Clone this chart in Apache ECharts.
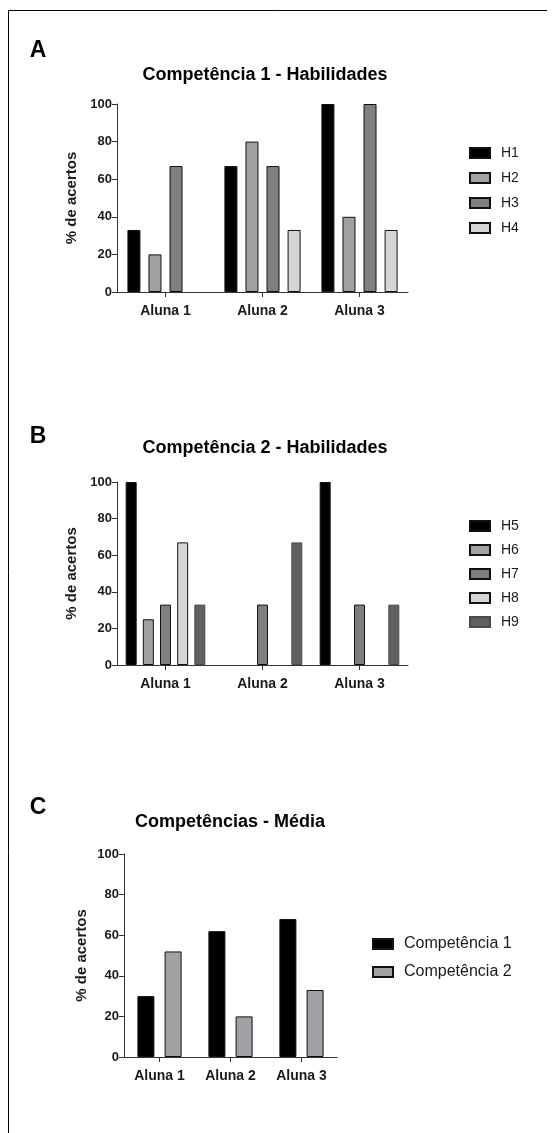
<!DOCTYPE html>
<html>
<head>
<meta charset="utf-8">
<script src="https://cdn.jsdelivr.net/npm/echarts@6/dist/echarts.min.js"></script>
<style>
  html, body { margin: 0; padding: 0; background: #fff; }
  #chart { width: 556px; height: 1133px; }
</style>
</head>
<body>
<div id="chart"></div>
<script>
// Students (categories shared by all three panels)
const categories = ['Aluna 1', 'Aluna 2', 'Aluna 3'];
const yTicks = { min: 0, max: 100, interval: 20 };

// Panel A: Competência 1 skills (% correct)
const h1 = [33, 67, 100];
const h2 = [20, 80, 40];
const h3 = [67, 67, 100];
const h4 = [0, 33, 33];

// Panel B: Competência 2 skills (% correct)
const h5 = [100, 0, 100];
const h6 = [25, 0, 0];
const h7 = [33, 33, 33];
const h8 = [67, 0, 0];
const h9 = [33, 67, 33];

// Panel C: average per competence
const comp1 = [30, 62, 68];
const comp2 = [52, 20, 33];

const FONT = '"Liberation Sans", Arial, Helvetica, sans-serif';
const INK = '#1a1a1a';
const AXIS = '#333333';

const fills = {
  black: '#000000', light: '#a0a0a5', mid: '#7f7f7f', pale: '#d5d5d5', dark: '#606060'
};

function yAxisFor(gridIndex) {
  return {
    type: 'value', gridIndex: gridIndex,
    min: yTicks.min, max: yTicks.max, interval: yTicks.interval,
    name: '% de acertos', nameLocation: 'middle', nameGap: 35, nameRotate: 90,
    nameTextStyle: { fontFamily: FONT, fontWeight: 'bold', fontSize: 15, color: INK },
    axisLine: { show: true, lineStyle: { color: AXIS, width: 1 } },
    axisTick: { show: true, length: 5, lineStyle: { color: AXIS, width: 1 } },
    axisLabel: { fontFamily: FONT, fontWeight: 'bold', fontSize: 13, color: INK, margin: 5 },
    splitLine: { show: false }
  };
}
function xAxisFor(gridIndex) {
  return {
    type: 'category', gridIndex: gridIndex, data: categories,
    axisLine: { show: true, lineStyle: { color: AXIS, width: 1 } },
    axisTick: { show: true, alignWithLabel: true, length: 5, lineStyle: { color: AXIS, width: 1 } },
    axisLabel: { fontFamily: FONT, fontWeight: 'bold', fontSize: 14, color: INK, margin: 12 }
  };
}
// a bar with no height is left without an outline so nothing shows on the axis
function points(values) {
  return values.map(function (v) {
    return v === 0 ? { value: v, itemStyle: { borderWidth: 0 } } : v;
  });
}
function bar(name, data, color, idx, width, gap, border) {
  return {
    type: 'bar', name: name, data: points(data),
    xAxisIndex: idx, yAxisIndex: idx,
    barWidth: width, barGap: gap,
    itemStyle: { color: color, borderColor: border || '#111', borderWidth: 1 },
    emphasis: { disabled: true },
    animation: false
  };
}
function legendFor(names, left, top, gap, size) {
  return {
    data: names, orient: 'vertical', left: left, top: top,
    itemWidth: 20, itemHeight: 10, itemGap: gap, icon: 'rect',
    selectedMode: false,
    textStyle: { fontFamily: FONT, fontSize: size, color: INK, padding: [0, 0, 0, 6] }
  };
}
function label(text, x, y, size) {
  return {
    type: 'text', x: x, y: y,
    style: { text: text, font: 'bold ' + size + 'px ' + FONT, fill: '#000',
             align: 'center', verticalAlign: 'middle' }
  };
}

const chart = echarts.init(document.getElementById('chart'), null, { renderer: 'canvas' });
chart.setOption({
  backgroundColor: '#ffffff',
  animation: false,
  grid: [
    { left: 117, top: 104, width: 291, height: 188 },
    { left: 117, top: 482, width: 291, height: 183 },
    { left: 124, top: 854, width: 213, height: 203 }
  ],
  xAxis: [xAxisFor(0), xAxisFor(1), xAxisFor(2)],
  yAxis: [yAxisFor(0), yAxisFor(1), yAxisFor(2)],
  legend: [
    legendFor(['H1', 'H2', 'H3', 'H4'], 464, 141, 11, 14),
    legendFor(['H5', 'H6', 'H7', 'H8', 'H9'], 464, 514, 10, 14),
    legendFor(['Competência 1', 'Competência 2'], 367, 931, 12, 16)
  ],
  series: [
    bar('H1', h1, fills.black, 0, 13, '62%'),
    bar('H2', h2, fills.light, 0, 13, '62%'),
    bar('H3', h3, fills.mid, 0, 13, '62%'),
    bar('H4', h4, fills.pale, 0, 13, '62%'),
    bar('H5', h5, fills.black, 1, 11, '56%'),
    bar('H6', h6, fills.light, 1, 11, '56%'),
    bar('H7', h7, fills.mid, 1, 11, '56%'),
    bar('H8', h8, fills.pale, 1, 11, '56%'),
    bar('H9', h9, fills.dark, 1, 11, '56%', '#4a4a4a'),
    bar('Competência 1', comp1, fills.black, 2, 17, '60%'),
    bar('Competência 2', comp2, fills.light, 2, 17, '60%')
  ],
  graphic: [
    // frame around the figure
    { type: 'polyline', shape: { points: [[8.5, 1133], [8.5, 10.5], [547, 10.5]] },
      style: { stroke: '#000', lineWidth: 1, fill: null } },
    label('A', 38, 51, 23),
    label('B', 38, 437, 23),
    label('C', 38, 808, 23),
    label('Competência 1 - Habilidades', 265, 75, 18),
    label('Competência 2 - Habilidades', 265, 448, 18),
    label('Competências - Média', 230, 822, 18)
  ]
});
</script>
</body>
</html>
